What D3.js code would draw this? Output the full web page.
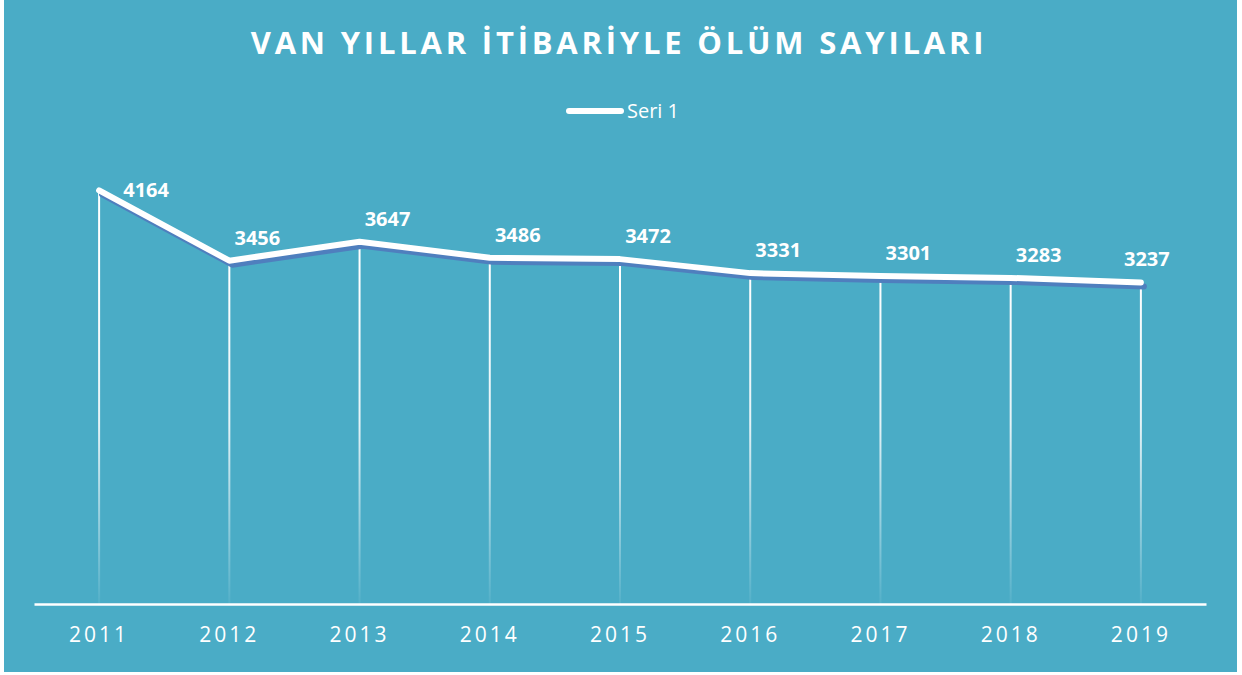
<!DOCTYPE html>
<html>
<head>
<meta charset="utf-8">
<script src="https://cdn.jsdelivr.net/npm/d3@7"></script>
<style>
  body { margin: 0; background: #fff; }
  svg text { font-family: "Open Sans", sans-serif; fill: #fff; }
</style>
</head>
<body>
<svg id="chart"></svg>
<script>
var years = ["2011", "2012", "2013", "2014", "2015", "2016", "2017", "2018", "2019"];
var deaths = [4164, 3456, 3647, 3486, 3472, 3331, 3301, 3283, 3237];
var seriesName = "Seri 1";
var title = "VAN YILLAR İTİBARİYLE ÖLÜM SAYILARI";

var width = 1242, height = 675,
  margin = { top: 157, bottom: 71, left: 34, right: 36 };

var svg = d3.select("#chart")
  .attr("width", width)
  .attr("height", height);

var data = years.map(function (y, i) { return { year: y, value: deaths[i] }; });

// background panel
svg.append("rect")
  .attr("x", 4).attr("y", 0)
  .attr("width", 1233).attr("height", 672)
  .attr("fill", "#4aacc6");

var x = d3.scaleBand()
  .domain(years)
  .range([margin.left, width - margin.right]);

var y = d3.scaleLinear()
  .domain([0, 4500])
  .range([height - margin.bottom, margin.top]);

var cx = function (d) { return x(d.year) + x.bandwidth() / 2; };

// fading gradient for drop lines
var defs = svg.append("defs");
var grad = defs.append("linearGradient")
  .attr("id", "dropFade")
  .attr("gradientUnits", "userSpaceOnUse")
  .attr("x1", 0).attr("x2", 0)
  .attr("y1", y(3300)).attr("y2", y(0));
grad.append("stop").attr("offset", "0%").attr("stop-color", "#fff").attr("stop-opacity", 1);
grad.append("stop").attr("offset", "45%").attr("stop-color", "#fff").attr("stop-opacity", 0.85);
grad.append("stop").attr("offset", "100%").attr("stop-color", "#fff").attr("stop-opacity", 0.05);

svg.append("g")
  .selectAll("line")
  .data(data)
  .enter().append("line")
  .attr("x1", cx).attr("x2", cx)
  .attr("y1", function (d) { return y(d.value); })
  .attr("y2", y(0))
  .attr("stroke", "url(#dropFade)")
  .attr("stroke-width", 2);

// x axis
var xAxis = svg.append("g")
  .attr("transform", "translate(0," + y(0) + ")")
  .call(d3.axisBottom(x).tickSize(0).tickPadding(23));
xAxis.select(".domain").attr("stroke", "#fff").attr("stroke-width", 2.5);
xAxis.selectAll("text")
  .style("font-size", "21px")
  .style("letter-spacing", "3px")
  .attr("fill", "#fff");

// line with shadow
var line = d3.line()
  .x(cx)
  .y(function (d) { return y(d.value); });

svg.append("path")
  .datum(data)
  .attr("d", line)
  .attr("transform", "translate(3,4)")
  .attr("fill", "none")
  .attr("stroke", "#4f7fbe")
  .attr("stroke-width", 6)
  .attr("stroke-linecap", "round")
  .attr("stroke-linejoin", "round");

svg.append("path")
  .datum(data)
  .attr("d", line)
  .attr("fill", "none")
  .attr("stroke", "#fff")
  .attr("stroke-width", 6)
  .attr("stroke-linecap", "round")
  .attr("stroke-linejoin", "round");

// data labels
var last = data.length - 1;
svg.append("g")
  .selectAll("text")
  .data(data)
  .enter().append("text")
  .attr("x", function (d, i) { return cx(d) + (i === 0 ? 47 : i === last ? 6 : 28); })
  .attr("y", function (d, i) { return y(d.value) - (i === 0 ? 0 : 23); })
  .attr("dy", "0.35em")
  .attr("text-anchor", "middle")
  .style("font-size", "20px")
  .style("font-weight", "bold")
  .text(function (d) { return d.value; });

// title
svg.append("text")
  .attr("x", 619).attr("y", 54)
  .attr("text-anchor", "middle")
  .style("font-size", "31px")
  .style("font-weight", "bold")
  .style("letter-spacing", "3.8px")
  .text(title);

// legend
var legend = svg.append("g").attr("transform", "translate(567,111)");
legend.append("line")
  .attr("x1", 2).attr("x2", 54)
  .attr("stroke", "#fff").attr("stroke-width", 6)
  .attr("stroke-linecap", "round");
legend.append("text")
  .attr("x", 60).attr("dy", "0.35em")
  .style("font-size", "20px")
  .text(seriesName);
</script>
</body>
</html>
